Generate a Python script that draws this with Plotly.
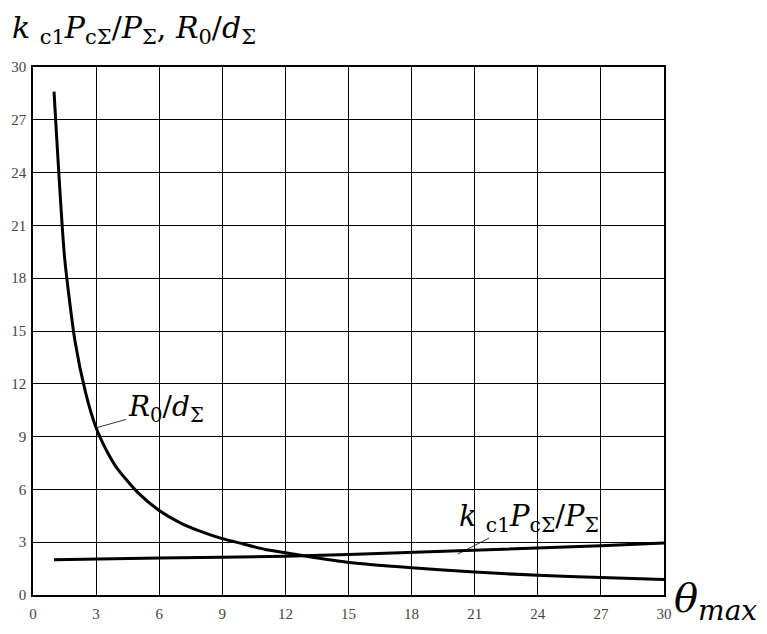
import plotly.graph_objects as go

# --- data ---
theta_r = [1, 1.5, 2, 2.5, 3, 3.5, 4, 5, 6, 7, 8, 9, 10, 11, 12, 13, 15, 18, 21, 24, 27, 30]
r0_d = [28.6, 19.2, 14.4, 11.5, 9.5, 8.2, 7.2, 5.8, 4.8, 4.1, 3.6, 3.2, 2.9, 2.6, 2.4, 2.2, 1.85, 1.55, 1.3, 1.12, 1.0, 0.88]

theta_k = [1, 3, 6, 9, 12, 15, 18, 21, 24, 27, 30]
k_ratio = [2.0, 2.05, 2.1, 2.15, 2.2, 2.3, 2.42, 2.55, 2.65, 2.8, 2.95]

ticks = [0, 3, 6, 9, 12, 15, 18, 21, 24, 27, 30]
tick_text = [str(t) for t in ticks]

y_title = "<i>k</i> <sub>c1</sub><i>P</i><sub>cΣ</sub>/<i>P</i><sub>Σ</sub>, <i>R</i><sub>0</sub>/<i>d</i><sub>Σ</sub>"
x_title = "<i>θ</i><sub><i>max</i></sub>"
lab_r = "<i>R</i><sub>0</sub>/<i>d</i><sub>Σ</sub>"
lab_k = "<i>k</i> <sub>c1</sub><i>P</i><sub>cΣ</sub>/<i>P</i><sub>Σ</sub>"

SERIF = "Liberation Serif, Times New Roman, serif"
MATH = "DejaVu Serif, serif"

fig = go.Figure()
fig.add_trace(go.Scatter(x=theta_r, y=r0_d, mode="lines", line=dict(color="black", width=3, shape="spline", smoothing=0.6), showlegend=False))
fig.add_trace(go.Scatter(x=theta_k, y=k_ratio, mode="lines", line=dict(color="black", width=3), showlegend=False))

axis_common = dict(range=[0, 30], tickvals=ticks, ticktext=tick_text, showgrid=True, gridcolor="black", gridwidth=1.3,
                   showline=True, linecolor="black", linewidth=1.5, mirror=True, zeroline=False, automargin=False,
                   tickfont=dict(family=SERIF, size=15, color="#444"), ticks="")
fig.update_xaxes(**axis_common, ticklabelstandoff=4)
fig.update_yaxes(**axis_common, ticklabelstandoff=2)

# curve labels with pointer lines
fig.add_annotation(x=theta_r[4], y=r0_d[4], ax=6.3, ay=10.6, axref="x", ayref="y", text=lab_r,
                   showarrow=True, arrowhead=0, arrowwidth=0.8, arrowcolor="black", standoff=0,
                   font=dict(family=MATH, size=28, color="black"))
fig.add_annotation(x=20.2, y=2.33, ax=23.6, ay=4.4, axref="x", ayref="y", text=lab_k,
                   showarrow=True, arrowhead=0, arrowwidth=0.8, arrowcolor="black", standoff=0,
                   font=dict(family=MATH, size=29, color="black"))

# axis titles
fig.add_annotation(x=0, y=1.0, xref="paper", yref="paper", xshift=-23, yshift=16, xanchor="left", yanchor="bottom",
                   text=y_title, showarrow=False, font=dict(family=MATH, size=30, color="black"))
fig.add_annotation(x=1.0, y=0, xref="paper", yref="paper", xshift=8, yshift=-34, xanchor="left", yanchor="bottom",
                   text=x_title, showarrow=False, font=dict(family=MATH, size=40, color="black"))

# page body has an 8px default margin, so the figure is sized/offset to compensate
fig.update_layout(width=759, height=626, margin=dict(l=25, r=103, t=59, b=39),
                  plot_bgcolor="white", paper_bgcolor="white")

fig.write_html("out.html")
